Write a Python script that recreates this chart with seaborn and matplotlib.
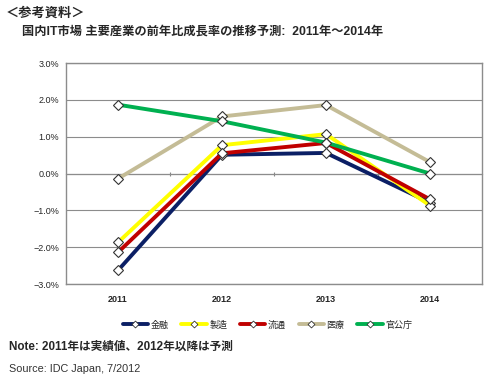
import matplotlib
matplotlib.use("Agg")
import matplotlib.pyplot as plt
import seaborn as sns
import pandas as pd
from matplotlib.ticker import FuncFormatter
from matplotlib.lines import Line2D

years = ["2011", "2012", "2013", "2014"]
series_names = ["金融", "製造", "流通", "医療", "官公庁"]
kinyu = [-2.63, 0.51, 0.56, -0.79]
seizo = [-1.87, 0.77, 1.07, -0.87]
ryutsu = [-2.14, 0.55, 0.83, -0.70]
iryo = [-0.14, 1.55, 1.86, 0.31]
kankocho = [1.87, 1.42, 0.84, 0.0]
colors = ["#0B1F65", "#FFFF00", "#C00000", "#C4BC96", "#00B050"]

values = [kinyu, seizo, ryutsu, iryo, kankocho]
rows = []
for name, vals in zip(series_names, values):
    for i, (y, v) in enumerate(zip(years, vals)):
        rows.append({"year": y, "x": i, "series": name, "value": v})
df = pd.DataFrame(rows)

sns.set_style("white")
plt.rcParams["font.family"] = ["Liberation Sans", "Noto Sans CJK JP", "DejaVu Sans"]

fig = plt.figure(figsize=(5, 3.8), dpi=100)
ax = fig.add_axes([0.132, 0.2526, 0.832, 0.5814])

sns.lineplot(data=df, x="x", y="value", hue="series", hue_order=series_names,
             palette=colors, lw=2.8, marker="D", markersize=5.5,
             markerfacecolor="white", markeredgecolor="#333333", markeredgewidth=0.8,
             ax=ax, legend=False, sort=False)

ax.set_xlim(-0.5, 3.5)
ax.set_ylim(-3.0, 3.0)
ax.set_yticks([-3, -2, -1, 0, 1, 2, 3])
ax.yaxis.set_major_formatter(FuncFormatter(lambda v, p: f"{v:.1f}%".replace("-", "−")))
ax.set_xticks(range(4))
ax.set_xticklabels(years, fontsize=6.5, fontweight="bold")
ax.tick_params(axis="x", length=0, pad=8)
ax.tick_params(axis="y", labelsize=6.5, length=0, pad=5)
ax.grid(axis="y", color="#8C8C8C", lw=0.8)
ax.set_axisbelow(True)
for s in ax.spines.values():
    s.set_color("#8C8C8C")
    s.set_linewidth(1.0)
ax.set_xlabel("")
ax.set_ylabel("")

# category tick marks on the zero line
sec = ax.secondary_xaxis(0.5)
sec.set_xticks([0.5, 1.5, 2.5])
sec.set_xticklabels([])
sec.tick_params(length=3, direction="inout", color="#8C8C8C")
sec.spines["bottom"].set_visible(False)

# legend
handles = [Line2D([], [], color=c, lw=2.8, marker="D", markersize=3.5,
                  markerfacecolor="white", markeredgecolor="#333333", markeredgewidth=0.6)
           for c in colors]
fig.legend(handles, series_names, loc="center", bbox_to_anchor=(0.535, 0.145), ncol=5,
           frameon=False, fontsize=6.5, handlelength=2.8, columnspacing=1.4, handletextpad=0.3)

fig.text(0.012, 0.965, "＜参考資料＞", fontsize=9.5, fontweight="bold", va="center")
fig.text(0.044, 0.918, "国内IT市場 主要産業の前年比成長率の推移予測:  2011年～2014年",
         fontsize=8.8, fontweight="bold", va="center")
fig.text(0.018, 0.087, "Note: 2011年は実績値、2012年以降は予測", fontsize=8.4, fontweight="bold", va="center")
fig.text(0.018, 0.03, "Source: IDC Japan, 7/2012", fontsize=7.8, va="center", color="#333333")

fig.savefig("out.png", dpi=100)
